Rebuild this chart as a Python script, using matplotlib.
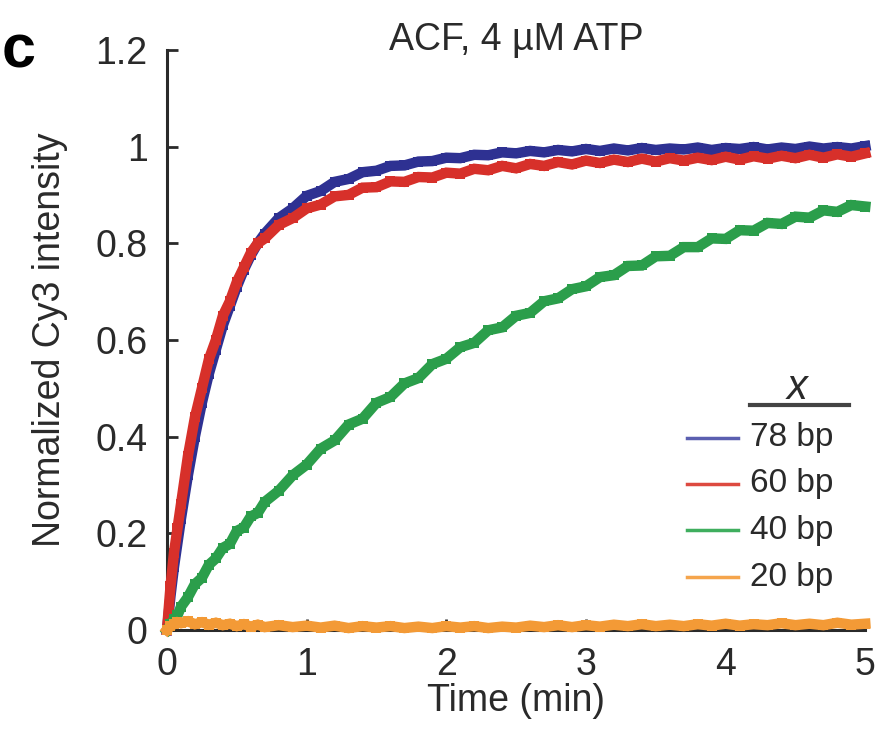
"""
ACF remodeling kinetics: normalized Cy3 intensity vs time
for different flanking DNA lengths (x).
"""

import matplotlib
matplotlib.use("Agg")
import matplotlib.pyplot as plt
from matplotlib.lines import Line2D

plt.rcParams["font.family"] = ["Liberation Sans", "DejaVu Sans"]

# time points (min)
t_min = [0, 0.025, 0.05, 0.075, 0.1, 0.15, 0.2, 0.25, 0.3, 0.35, 0.4, 0.45,
         0.5, 0.55, 0.6, 0.65, 0.7, 0.8, 0.9, 1.0, 1.1, 1.2, 1.3, 1.4, 1.5,
         1.6, 1.7, 1.8, 1.9, 2.0, 2.1, 2.2, 2.3, 2.4, 2.5, 2.6, 2.7, 2.8, 2.9,
         3.0, 3.1, 3.2, 3.3, 3.4, 3.5, 3.6, 3.7, 3.8, 3.9, 4.0, 4.1, 4.2, 4.3,
         4.4, 4.5, 4.6, 4.7, 4.8, 4.9, 5.0]

# normalized Cy3 intensity
y_78 = [0, 0.07, 0.13, 0.18, 0.23, 0.32, 0.40, 0.47, 0.53, 0.58, 0.63, 0.67,
        0.71, 0.745, 0.775, 0.80, 0.82,
        0.852, 0.872, 0.898, 0.908, 0.927, 0.933, 0.947, 0.950, 0.960, 0.961,
        0.969, 0.970, 0.977, 0.976, 0.983, 0.982, 0.988, 0.986, 0.991, 0.988,
        0.993, 0.990, 0.995,
        0.991, 0.996, 0.992, 0.997, 0.993, 0.996, 0.994, 0.998, 0.993, 0.997,
        0.995, 0.999, 0.994, 0.998, 0.995, 1.000, 0.996, 0.999, 0.996, 1.001]

y_60 = [0, 0.09, 0.16, 0.21, 0.26, 0.36, 0.44, 0.50, 0.56, 0.60, 0.65, 0.68,
        0.72, 0.75, 0.78, 0.80, 0.81,
        0.838, 0.852, 0.872, 0.880, 0.897, 0.900, 0.915, 0.916, 0.928, 0.927,
        0.937, 0.936, 0.946, 0.944, 0.954, 0.951, 0.960, 0.955, 0.964, 0.960,
        0.968, 0.963, 0.971,
        0.966, 0.973, 0.968, 0.975, 0.969, 0.976, 0.971, 0.977, 0.972, 0.979,
        0.973, 0.980, 0.975, 0.981, 0.976, 0.983, 0.977, 0.984, 0.979, 0.986]

y_40 = [0, 0.012, 0.022, 0.030, 0.048, 0.068, 0.095, 0.108, 0.135, 0.148,
        0.170, 0.178, 0.205, 0.212, 0.235, 0.242, 0.265,
        0.288, 0.320, 0.342, 0.375, 0.392, 0.425, 0.437, 0.470, 0.482, 0.510,
        0.521, 0.550, 0.561, 0.585, 0.594, 0.620, 0.626, 0.650, 0.656, 0.680,
        0.686, 0.705, 0.711,
        0.730, 0.734, 0.753, 0.754, 0.773, 0.774, 0.792, 0.792, 0.810, 0.809,
        0.827, 0.826, 0.842, 0.840, 0.855, 0.853, 0.868, 0.865, 0.879, 0.876]

y_20 = [0, 0.008, 0.012, 0.016, 0.014, 0.018, 0.012, 0.016, 0.011, 0.015,
        0.010, 0.013, 0.008, 0.012, 0.007, 0.011, 0.006,
        0.010, 0.006, 0.009, 0.005, 0.009, 0.004, 0.008, 0.005, 0.008, 0.004,
        0.007, 0.004, 0.008, 0.005, 0.008, 0.004, 0.007, 0.005, 0.009, 0.006,
        0.010, 0.006, 0.010,
        0.007, 0.011, 0.008, 0.012, 0.008, 0.011, 0.008, 0.012, 0.009, 0.013,
        0.009, 0.012, 0.010, 0.014, 0.010, 0.013, 0.010, 0.015, 0.011, 0.013]

series_labels = ["78 bp", "60 bp", "40 bp", "20 bp"]
series_colors = ["#2e3192", "#d7302a", "#2b9e4b", "#f39a36"]
legend_colors = ["#5b5fb0", "#dd4a40", "#3fae5e", "#f5a54c"]

y_ticks = [0, 0.2, 0.4, 0.6, 0.8, 1.0, 1.2]
y_tick_labels = ["0", "0.2", "0.4", "0.6", "0.8", "1", "1.2"]
x_ticks = [0, 1, 2, 3, 4, 5]

FS = 27
TXT = "#2a2a2a"

fig = plt.figure(figsize=(8.93, 7.39), dpi=100)
ax = fig.add_axes([0.187, 0.1475, 0.782, 0.785])

# data traces (drawn thick so they read as dense point clouds)
for y, c in zip([y_78, y_60, y_40, y_20], series_colors):
    ax.plot(t_min, y, color=c, lw=7.5, marker="s", ms=7, mew=0,
            solid_joinstyle="miter", clip_on=False, zorder=3)

ax.set_xlim(0, 5)
ax.set_ylim(0, 1.2)
ax.set_xticks(x_ticks)
ax.set_yticks(y_ticks)
ax.set_yticklabels(y_tick_labels)
ax.tick_params(direction="in", length=8, width=2, labelsize=FS, pad=14,
               color=TXT, labelcolor=TXT)
ax.tick_params(axis="x", pad=12)

for side in ["top", "right"]:
    ax.spines[side].set_visible(False)
for side in ["left", "bottom"]:
    ax.spines[side].set_linewidth(2.2)
    ax.spines[side].set_color(TXT)

ax.set_xlabel("Time (min)", fontsize=FS, labelpad=0, color=TXT)
ax.set_ylabel("Normalized Cy3 intensity", fontsize=FS, labelpad=20,
              color=TXT)

# title sits just at the top of the axis
ax.text(0.5, 1.0, "ACF, 4 µM ATP", transform=ax.transAxes, ha="center",
        va="baseline", fontsize=FS, color=TXT)

# panel letter at the top-left corner
fig.text(0.002, 0.93, "c", fontsize=44, fontweight="bold", ha="left",
         va="center")

# hand-drawn legend
ax.text(0.903, 0.417, "x", transform=ax.transAxes, ha="center",
        va="center", fontsize=30, style="italic", color=TXT)
ax.add_line(Line2D([0.835, 0.976], [0.388, 0.388], transform=ax.transAxes,
                   color="#444444", lw=3))
legend_y = [0.331, 0.252, 0.172, 0.091]
for lab, c, yy in zip(series_labels, legend_colors, legend_y):
    ax.add_line(Line2D([0.745, 0.817], [yy, yy], transform=ax.transAxes,
                       color=c, lw=2.5))
    ax.text(0.835, yy, lab, transform=ax.transAxes, ha="left",
            va="center", fontsize=24, color=TXT)

fig.savefig("out.png", dpi=100)
